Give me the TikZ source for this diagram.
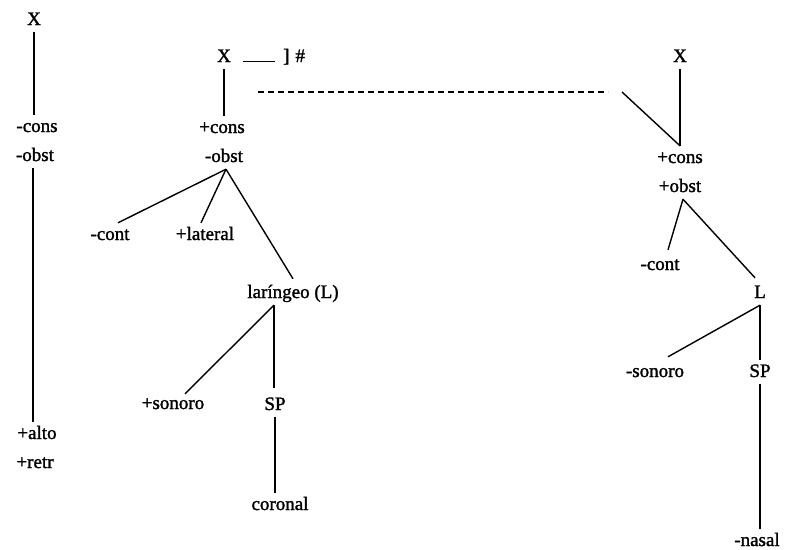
\documentclass[tikz,border=0pt]{standalone}
\usepackage{fontspec}
\setmainfont{Liberation Serif}[UprightFeatures={FakeBold=1.5}]
\usetikzlibrary{calc}
\begin{document}
\begin{tikzpicture}[x=1pt,y=-1pt,
  lbl/.style={anchor=base,inner xsep=0pt,inner ysep=3pt,text height=14pt,text depth=4pt,font=\fontsize{19}{22}\selectfont},
  edge/.style={line width=1.4pt},
  dashline/.style={line width=1.4pt,dash pattern=on 6pt off 4pt}]
\useasboundingbox (0,0) rectangle (786,549);
% left column
\node[lbl] (xl) at (34,25) {X};
\node[lbl] (consl) at (37,132) {-cons};
\node[lbl] (obstl) at (35,161) {-obst};
\node[lbl] (altol) at (37,439) {+alto};
\node[lbl] (retrl) at (35,468) {+retr};
\draw[edge] (xl.south) -- (xl.south |- consl.north);
\draw[edge] ($(obstl.south)+(-2,0)$) -- ($(obstl.south |- altol.north)+(-2,0)$);
% middle tree
\node[lbl] (xm) at (224,62) {X};
\node[lbl,anchor=base west] (env) at (243,62) {\rule{32pt}{1.2pt}\hspace{8pt}]\hspace{6pt}\#};
\node[lbl] (consm) at (222,133) {+cons};
\node[lbl] (obstm) at (224,162) {-obst};
\node[lbl] (contm) at (110,240) {-cont};
\node[lbl] (latm) at (205,240) {+lateral};
\node[lbl] (lar) at (293,298) {laríngeo (L)};
\node[lbl] (sonm) at (173,409) {+sonoro};
\node[lbl] (spm) at (275,410) {SP};
\node[lbl] (cor) at (280,510) {coronal};
\draw[edge] (xm.south) -- (xm.south |- consm.north);
\draw[edge] ($(obstm.south)+(2,0)$) -- ($(contm.north)+(8,0)$);
\draw[edge] ($(obstm.south)+(2,0)$) -- ($(latm.north)+(-4,0)$);
\draw[edge] ($(obstm.south)+(2,0)$) -- ($(lar.north)+(0,-2)$);
\draw[edge] ($(lar.south)+(-19,0)$) -- ($(sonm.north)+(12,2)$);
\draw[edge] ($(lar.south)+(-19,0)$) -- ($(spm.north)+(-1,-5)$);
\draw[edge] (spm.south) -- (spm.south |- cor.north);
% right tree
\node[lbl] (xr) at (680,62) {X};
\node[lbl] (consr) at (680,163) {+cons};
\node[lbl] (obstr) at (680,192) {+obst};
\node[lbl] (contr) at (660,270) {-cont};
\node[lbl] (lr) at (760,298) {L};
\node[lbl] (sonr) at (655,377) {-sonoro};
\node[lbl] (spr) at (760,377) {SP};
\node[lbl] (nas) at (757,546) {-nasal};
\coordinate (dl) at (258,92);
\coordinate (dr) at (608,92);
\coordinate (diag) at (622,92);
\draw[dashline] (dl) -- (dr);
\draw[edge] (xr.south) -- (consr.north);
\draw[edge] (diag) -- (consr.north);
\draw[edge] ($(obstr.south)+(3,0)$) -- ($(contr.north)+(8,-3)$);
\draw[edge] ($(obstr.south)+(3,0)$) -- ($(lr.north)+(-5,-3)$);
\draw[edge] (lr.south) -- ($(sonr.north)+(13,-3)$);
\draw[edge] (lr.south) -- (spr.north);
\draw[edge] (spr.south) -- (spr.south |- nas.north);
\end{tikzpicture}
\end{document}
